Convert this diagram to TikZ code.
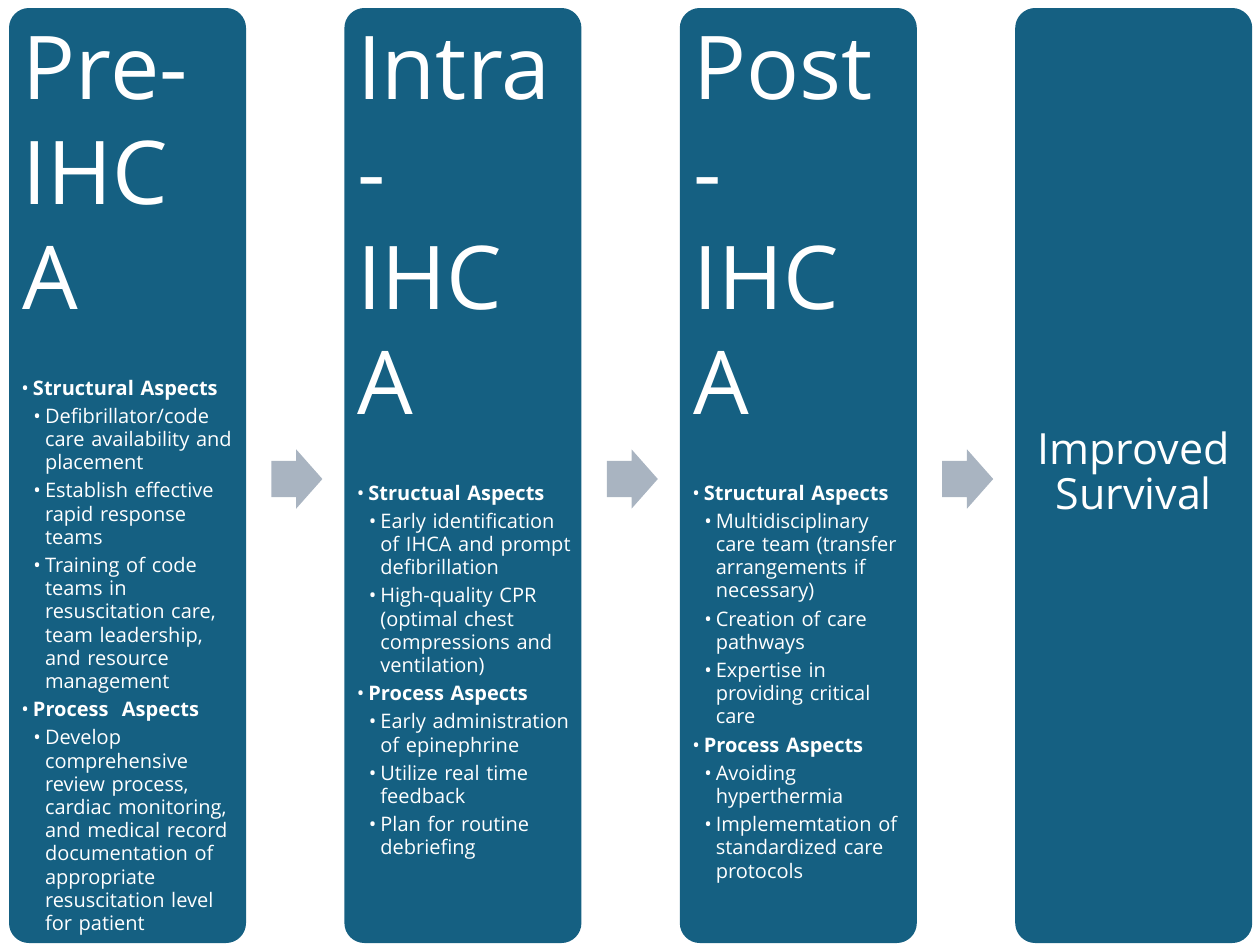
\documentclass[tikz,border=0pt]{standalone}
\usepackage{fontspec}
\setmainfont{Open Sans}
\usetikzlibrary{positioning, shapes.arrows}
\definecolor{phaseblue}{HTML}{156082}
\definecolor{flowgrey}{HTML}{A9B4C1}
\tikzset{
  phase/.style = {rectangle, fill=phaseblue, rounded corners=20pt, minimum width=237pt, minimum height=935pt, inner sep=0pt},
  phasetitle/.style = {anchor=base west, text width=230pt, align=left, inner sep=0pt, text=white, font=\fontsize{88}{105}\selectfont},
  phaselist/.style = {anchor=base west, text width=230pt, align=left, inner sep=0pt, text=white, font=\fontsize{20}{23.2}\selectfont},
  flowarrow/.style = {single arrow, fill=flowgrey, minimum height=51pt, minimum width=59pt, single arrow head extend=11.5pt, single arrow tip angle=97, inner xsep=0pt, inner ysep=18pt},
  outcometext/.style = {anchor=base, text width=230pt, align=center, inner sep=0pt, text=white, font=\fontsize{43}{45}\selectfont},
}
% bullet levels
\newcommand{\hitem}[1]{\par\setlength{\parskip}{5pt}\leftskip=24pt\noindent\llap{\textbullet\hspace{4pt}}\textbf{#1}}
\newcommand{\sitem}[1]{\par\leftskip=36pt\noindent\llap{\textbullet\hspace{4pt}}#1}

\begin{document}
\begin{tikzpicture}[x=1pt, y=-1pt, node distance=98pt]
  \useasboundingbox (0,0) rectangle (1253,945);

  % columns
  \node (pre) [phase] at (127.5,475.5) {};
  \node (intra) [phase, right=of pre] {};
  \node (post) [phase, right=of intra] {};
  \node (outcome) [phase, right=of post] {};

  % arrows between columns
  \node (a1) [flowarrow, right=25pt of pre, yshift=-3.5pt] {};
  \node (a2) [flowarrow, right=25pt of intra, yshift=-3.5pt] {};
  \node (a3) [flowarrow, right=25pt of post, yshift=-3.5pt] {};

  % titles
  \node (pretitle) [phasetitle] at ([xshift=14pt, yshift=-92pt]pre.north west) {Pre-\\IHC\\A};
  \node (intratitle) [phasetitle] at ([xshift=13pt, yshift=-92pt]intra.north west) {Intra\\-\\IHC\\A};
  \node (posttitle) [phasetitle] at ([xshift=14pt, yshift=-92pt]post.north west) {Post\\-\\IHC\\A};
  \node (survival) [outcometext] at ([yshift=-457pt]outcome.north) {Improved\\Survival};

  % bullet lists
  \node (prelist) [phaselist] at ([yshift=-359pt]pre.north west) {%
    \hitem{Structural Aspects}
    \sitem{Defibrillator/code\\care availability and\\placement}
    \sitem{Establish effective\\rapid response\\teams}
    \sitem{Training of code\\teams in\\resuscitation care,\\team leadership,\\and resource\\management}
    \hitem{Process\ \ Aspects}
    \sitem{Develop\\comprehensive\\review process,\\cardiac monitoring,\\and medical record\\documentation of\\appropriate\\resuscitation level\\for patient}\par};
  \node (intralist) [phaselist] at ([yshift=-464pt]intra.north west) {%
    \hitem{Structual Aspects}
    \sitem{Early identification\\of IHCA and prompt\\defibrillation}
    \sitem{High-quality CPR\\(optimal chest\\compressions and\\ventilation)}
    \hitem{Process Aspects}
    \sitem{Early administration\\of epinephrine}
    \sitem{Utilize real time\\feedback}
    \sitem{Plan for routine\\debriefing}\par};
  \node (postlist) [phaselist] at ([yshift=-464pt]post.north west) {%
    \hitem{Structural Aspects}
    \sitem{Multidisciplinary\\care team (transfer\\arrangements if\\necessary)}
    \sitem{Creation of care\\pathways}
    \sitem{Expertise in\\providing critical\\care}
    \hitem{Process Aspects}
    \sitem{Avoiding\\hyperthermia}
    \sitem{Implememtation of\\standardized care\\protocols}\par};

\end{tikzpicture}
\end{document}
